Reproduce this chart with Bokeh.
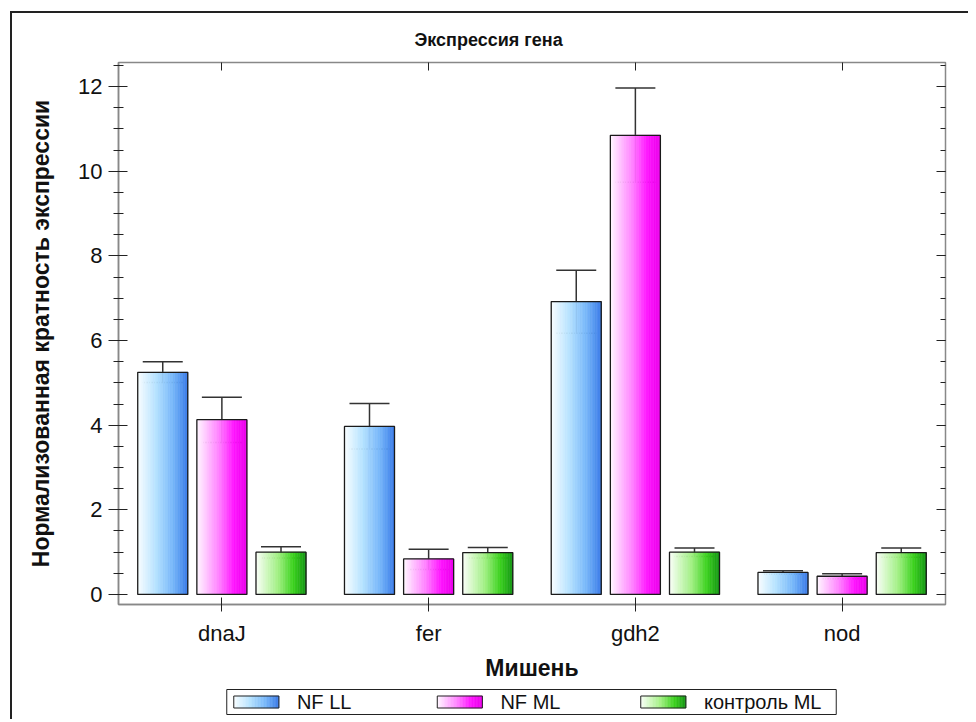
from bokeh.plotting import figure
from bokeh.layouts import column
from bokeh.models import (Range1d, LinearAxis, FixedTicker, SingleIntervalTicker,
                          ColumnDataSource, Whisker, TeeHead, CustomJSTickFormatter, Title)
from bokeh.core.properties import value
from bokeh.embed import file_html
from bokeh.resources import INLINE

# ---------------- data ----------------
categories = ["dnaJ", "fer", "gdh2", "nod"]
series_names = ["NF LL", "NF ML", "контроль ML"]
nf_ll = [5.25, 3.97, 6.92, 0.52]
nf_ll_hi = [5.50, 4.51, 7.66, 0.56]
nf_ll_lo = [5.01, 3.44, 6.17, 0.48]
nf_ml = [4.13, 0.84, 10.85, 0.43]
nf_ml_hi = [4.66, 1.07, 11.97, 0.49]
nf_ml_lo = [3.59, 0.59, 9.74, 0.37]
ctrl_ml = [1.00, 0.99, 1.00, 0.99]
ctrl_ml_hi = [1.13, 1.11, 1.10, 1.10]
ctrl_ml_lo = [0.86, 0.86, 0.90, 0.88]

values = [nf_ll, nf_ml, ctrl_ml]
highs = [nf_ll_hi, nf_ml_hi, ctrl_ml_hi]
lows = [nf_ll_lo, nf_ml_lo, ctrl_ml_lo]

# ---------------- styles ----------------
FONT = "Liberation Sans"
offsets = [-0.286, 0.0, 0.286]
bar_w = 0.242
n_slices = 30
FRAME_W = 825
gradients = [
    [(0.0, (250, 254, 255)), (0.35, (185, 228, 255)), (0.7, (120, 184, 250)), (1.0, (58, 123, 232))],
    [(0.0, (255, 250, 255)), (0.45, (255, 128, 255)), (0.75, (255, 20, 255)), (1.0, (235, 0, 235))],
    [(0.0, (252, 255, 250)), (0.45, (160, 240, 130)), (0.75, (60, 210, 30)), (1.0, (20, 150, 20))],
]


def grad_color(stops, t):
    for (t0, c0), (t1, c1) in zip(stops[:-1], stops[1:]):
        if t0 <= t <= t1:
            f = (t - t0) / (t1 - t0)
            return "#%02x%02x%02x" % tuple(int(round(a + (b - a) * f)) for a, b in zip(c0, c1))
    return "#%02x%02x%02x" % stops[-1][1]


def gradient_slices(x_lefts, widths, tops, bottoms, stops):
    left, right, top, bottom, color = [], [], [], [], []
    for x0, w, t, b in zip(x_lefts, widths, tops, bottoms):
        for k in range(n_slices):
            left.append(x0 + k * w / n_slices)
            right.append(x0 + (k + 1) * w / n_slices)
            top.append(t)
            bottom.append(b)
            color.append(grad_color(stops, (k + 0.5) / n_slices))
    return ColumnDataSource(dict(left=left, right=right, top=top, bottom=bottom, color=color))


p = figure(frame_width=FRAME_W, frame_height=540, output_backend="svg", toolbar_location=None,
           x_range=Range1d(0, len(categories)), y_range=Range1d(-0.237, 12.57),
           min_border_left=106, min_border_right=25, min_border_top=49, min_border_bottom=84,
           x_axis_label="Мишень", y_axis_label="Нормализованная кратность экспрессии")
p.margin = (11, 0, 0, 10)
p.styles = {"border-top": "2px solid #222", "border-left": "2px solid #222"}
p.grid.visible = False
p.outline_line_color = "#888888"
p.outline_line_width = 1.5
p.background_fill_color = "white"
p.border_fill_color = "white"

p.title = Title(text="Экспрессия гена", align="left", offset=296, standoff=25,
                text_font=FONT, text_font_size="18px", text_font_style="bold", text_color="#111")

for s in range(3):
    xs = [i + 0.5 + offsets[s] for i in range(len(categories))]
    src = ColumnDataSource(dict(x=xs, top=values[s], bottom=[0] * len(xs),
                                left=[x - bar_w / 2 for x in xs], right=[x + bar_w / 2 for x in xs],
                                hi=highs[s], lo=lows[s]))
    gsrc = gradient_slices([x - bar_w / 2 for x in xs], [bar_w] * len(xs), values[s],
                           [0] * len(xs), gradients[s])
    p.quad(left="left", right="right", top="top", bottom="bottom", source=gsrc,
           fill_color="color", line_color="color", line_width=0.6)
    p.quad(left="left", right="right", top="top", bottom="bottom", source=src,
           fill_color=None, line_color="#1a1a1a", line_width=1.3)
    p.add_layout(Whisker(source=src, base="x", upper="hi", lower="lo",
                         line_color="#333333", line_width=1.5,
                         upper_head=TeeHead(size=40, line_color="#333333", line_width=1.5),
                         lower_head=TeeHead(size=40, line_color="#333333", line_width=1.5)))

# axes
ax_y = p.yaxis[0]
ax_y.ticker = SingleIntervalTicker(interval=2, num_minor_ticks=4)
ax_x = p.xaxis[0]
ax_x.ticker = FixedTicker(ticks=[i + 0.5 for i in range(len(categories))], minor_ticks=[])
ax_x.major_label_overrides = {i + 0.5: c for i, c in enumerate(categories)}

for ax in (ax_x, ax_y):
    ax.axis_line_color = "#888888"
    ax.axis_line_width = 1.5
    ax.major_tick_line_color = "#222222"
    ax.minor_tick_line_color = "#222222"
    ax.major_label_text_font = FONT
    ax.major_label_text_font_size = "22px"
    ax.major_label_text_color = "#111111"
    ax.axis_label_text_font = FONT
    ax.axis_label_text_font_size = "23px"
    ax.axis_label_text_font_style = "bold"
    ax.axis_label_text_color = "#111111"

ax_y.major_tick_in = 9
ax_y.major_tick_out = 10
ax_y.minor_tick_in = 5
ax_y.minor_tick_out = 5
ax_y.major_label_standoff = 6
ax_y.axis_label_standoff = 21

ax_x.major_tick_in = 7
ax_x.major_tick_out = 7
ax_x.major_label_standoff = 9
ax_x.axis_label_standoff = 6

blank = CustomJSTickFormatter(code="return ''")
ax_r = LinearAxis(ticker=SingleIntervalTicker(interval=2, num_minor_ticks=4), formatter=blank,
                  axis_line_color=None, major_tick_in=9, major_tick_out=0, minor_tick_in=5,
                  minor_tick_out=0, major_tick_line_color="#222222", minor_tick_line_color="#222222",
                  major_label_standoff=0)
p.add_layout(ax_r, "right")
ax_t = LinearAxis(ticker=FixedTicker(ticks=[i + 0.5 for i in range(len(categories))], minor_ticks=[]),
                  formatter=blank, axis_line_color=None, major_tick_in=8, major_tick_out=0,
                  major_tick_line_color="#222222", major_label_standoff=0)
p.add_layout(ax_t, "above")

# ---------------- legend strip (pixel coordinates relative to the plot frame) ----------------
LH = 33
box_left, box_right, box_top, box_bottom = 108, 716, 3, 28
pad, pitch, sw_w, sw_h, gap = 7, 203, 45, 12, 18

leg = figure(frame_width=FRAME_W, frame_height=LH, output_backend="svg", toolbar_location=None,
             x_range=Range1d(0, FRAME_W), y_range=Range1d(LH, 0),
             x_axis_type=None, y_axis_type=None, min_border=0,
             min_border_left=106, min_border_right=25)
leg.margin = (0, 0, 0, 10)
leg.styles = {"border-left": "2px solid #222"}
leg.grid.visible = False
leg.outline_line_color = None
leg.background_fill_color = "white"
leg.border_fill_color = "white"

leg.quad(left=[box_left], right=[box_right], top=[box_top], bottom=[box_bottom],
         fill_color="white", line_color="#222222", line_width=1)
mid = (box_top + box_bottom) / 2
sw_left = [box_left + pad + i * pitch for i in range(len(series_names))]
for s in range(len(series_names)):
    gs = gradient_slices([sw_left[s]], [sw_w], [mid - sw_h / 2], [mid + sw_h / 2], gradients[s])
    leg.quad(left="left", right="right", top="top", bottom="bottom", source=gs,
             fill_color="color", line_color="color", line_width=0.6)
leg.quad(left=sw_left, right=[x + sw_w for x in sw_left], top=[mid - sw_h / 2] * 3,
         bottom=[mid + sw_h / 2] * 3, fill_color=None, line_color="#222222", line_width=1)
leg.text(x=[x + sw_w + gap for x in sw_left], y=[mid] * 3, text=series_names,
         text_font=value(FONT), text_font_size="20px", text_baseline="middle",
         text_align="left", text_color="#111111")

layout = column(p, leg, spacing=0)
open("out.html", "w").write(file_html(layout, INLINE))
